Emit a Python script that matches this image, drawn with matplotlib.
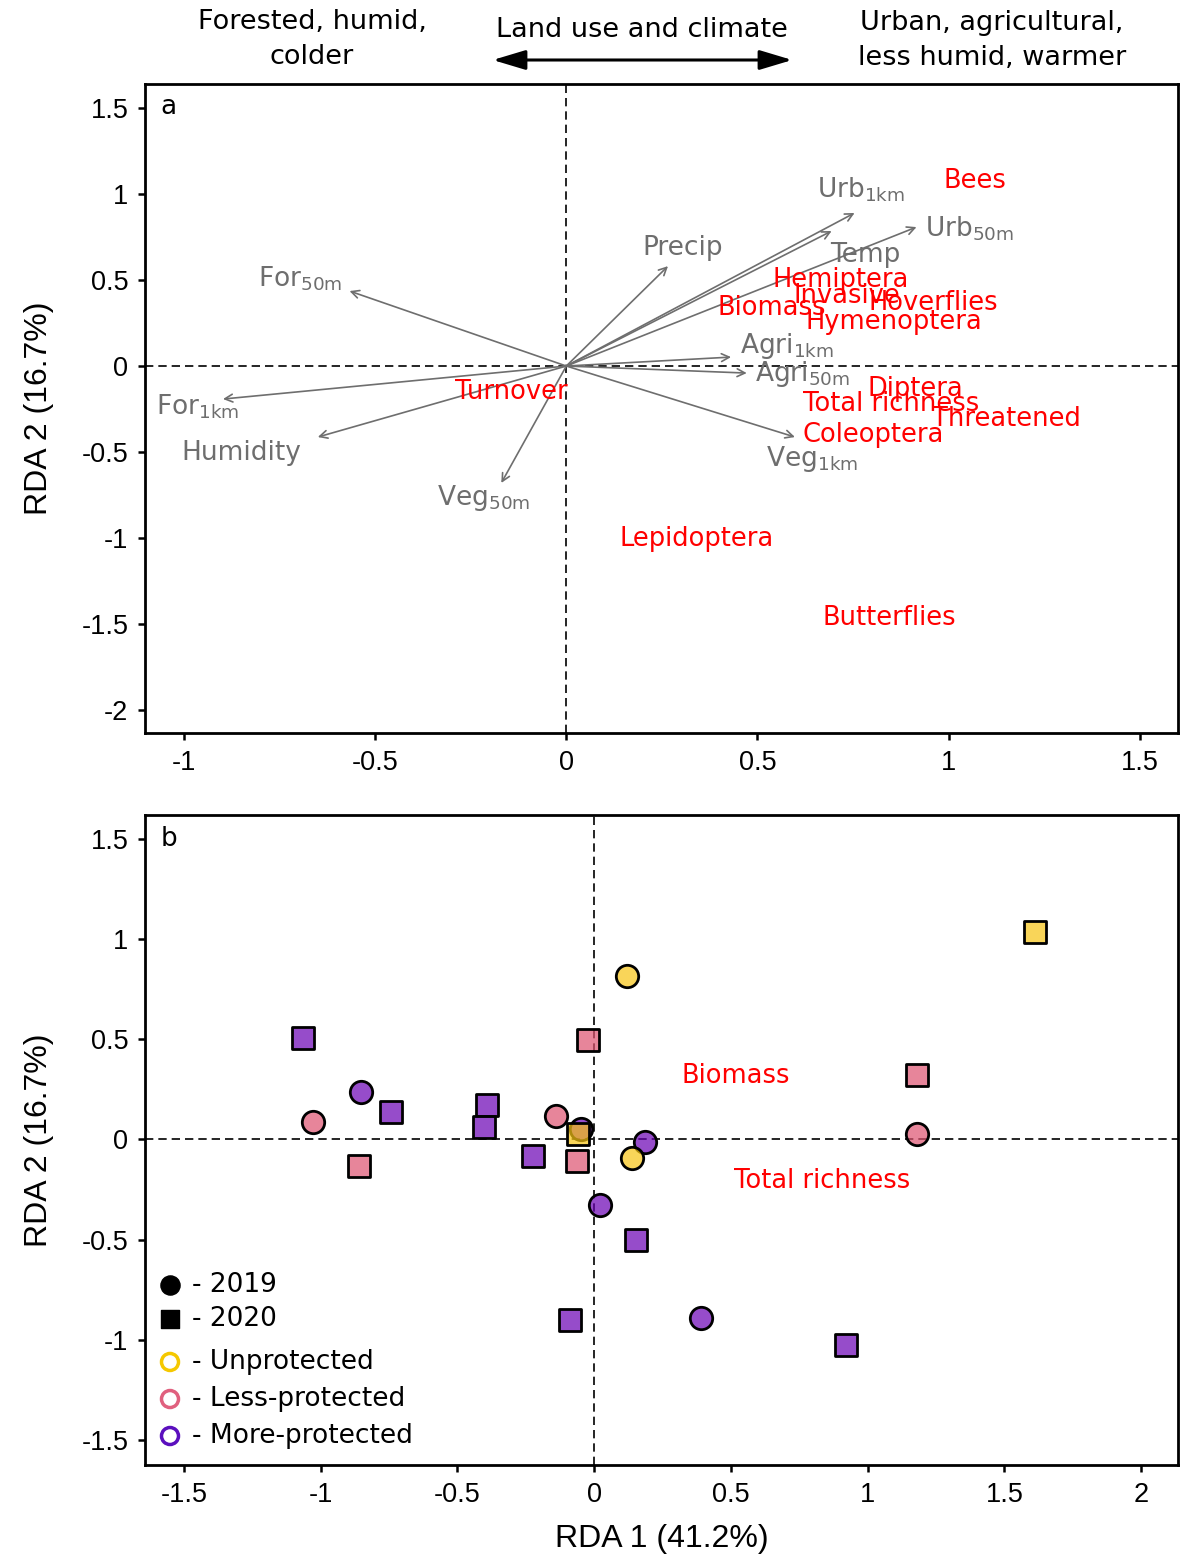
"""RDA biplot of insect community metrics against land use and climate (a)
and site scores by year and protection level (b)."""
import matplotlib

matplotlib.use("Agg")
import matplotlib.pyplot as plt
from matplotlib.colors import to_rgba
from matplotlib.ticker import FuncFormatter

plt.rcParams["axes.unicode_minus"] = False

# --- panel a: explanatory variable arrows (tips in RDA space) ---
env_names = ["For$_\\mathregular{50m}$", "For$_\\mathregular{1km}$", "Humidity",
             "Veg$_\\mathregular{50m}$", "Precip", "Urb$_\\mathregular{1km}$", "Temp",
             "Urb$_\\mathregular{50m}$", "Agri$_\\mathregular{1km}$",
             "Agri$_\\mathregular{50m}$", "Veg$_\\mathregular{1km}$"]
env_x = [-0.567, -0.898, -0.650, -0.170, 0.266, 0.754, 0.694, 0.916, 0.431, 0.472, 0.598]
env_y = [0.436, -0.192, -0.413, -0.680, 0.581, 0.890, 0.785, 0.808, 0.052, -0.041, -0.413]
env_lab_x = [-0.697, -0.963, -0.851, -0.217, 0.305, 0.770, 0.783, 1.055, 0.577, 0.619, 0.642]
env_lab_y = [0.506, -0.238, -0.506, -0.767, 0.686, 1.023, 0.645, 0.797, 0.116, -0.047, -0.541]

# response variables (passive, shown as labels)
resp_names = ["Bees", "Hemiptera", "Invasive", "Biomass", "Hoverflies", "Hymenoptera",
              "Diptera", "Total richness", "Threatened", "Coleoptera", "Turnover",
              "Lepidoptera", "Butterflies"]
resp_x = [1.070, 0.718, 0.734, 0.538, 0.961, 0.856, 0.914, 0.849, 1.151, 0.804,
          -0.144, 0.342, 0.846]
resp_y = [1.076, 0.500, 0.407, 0.337, 0.366, 0.256, -0.134, -0.221, -0.308, -0.401,
          -0.151, -1.006, -1.465]

# --- panel b: site scores ---
site_x = [-0.854, -0.047, 0.186, 0.022, 0.391,
          -1.066, -0.741, -0.391, -0.401, -0.223, 0.153, -0.088, 0.920,
          -1.029, -0.139, 1.182,
          -0.861, -0.062, -0.022, 1.182,
          0.120, 0.139,
          -0.058, 1.613]
site_y = [0.235, 0.050, -0.010, -0.325, -0.890,
          0.505, 0.135, 0.170, 0.060, -0.080, -0.500, -0.900, -1.025,
          0.085, 0.115, 0.025,
          -0.130, -0.105, 0.495, 0.320,
          0.815, -0.090,
          0.025, 1.035]
site_year = [2019] * 5 + [2020] * 8 + [2019] * 3 + [2020] * 4 + [2019] * 2 + [2020] * 2
site_prot = ["More"] * 13 + ["Less"] * 7 + ["Un"] * 4
resp_b_names = ["Biomass", "Total richness"]
resp_b_x = [0.518, 0.832]
resp_b_y = [0.315, -0.205]

prot_colors = {"Un": "#F7C413", "Less": "#DE526F", "More": "#6A00B4"}
legend_edge = {"Un": "#F5C800", "Less": "#E0607E", "More": "#5B0FBE"}
legend_labels = {"Un": "- Unprotected", "Less": "- Less-protected", "More": "- More-protected"}

GRAY = "#6e6e6e"
TICK_FONT = "Liberation Sans"

fig = plt.figure(figsize=(11.8, 15.58), dpi=100)
ax_a = fig.add_axes([145 / 1180, 1 - 733 / 1558, 1033 / 1180, 649 / 1558])
ax_b = fig.add_axes([145 / 1180, 1 - 1465 / 1558, 1033 / 1180, 650 / 1558])


def style_axes(ax):
    for sp in ax.spines.values():
        sp.set_linewidth(2.0)
    ax.tick_params(direction="out", length=5, width=1.8, labelsize=19.5, pad=7)
    for lab in ax.get_xticklabels() + ax.get_yticklabels():
        lab.set_fontfamily(TICK_FONT)
    fmt = FuncFormatter(lambda v, p: f"{v:g}")
    ax.xaxis.set_major_formatter(fmt)
    ax.yaxis.set_major_formatter(fmt)
    ax.axhline(0, color="black", lw=1.2, ls=(0, (5, 3)), zorder=1)
    ax.axvline(0, color="black", lw=1.2, ls=(0, (5, 3)), zorder=1)
    ax.set_ylabel("RDA 2 (16.7%)", fontsize=23, fontfamily=TICK_FONT, labelpad=20)


# panel a
ax_a.set_xlim(-1.102, 1.60)
ax_a.set_ylim(-2.134, 1.64)
ax_a.set_xticks([-1, -0.5, 0, 0.5, 1, 1.5])
ax_a.set_yticks([1.5, 1, 0.5, 0, -0.5, -1, -1.5, -2])
style_axes(ax_a)
for x, y in zip(env_x, env_y):
    ax_a.annotate("", xy=(x, y), xytext=(0, 0),
                  arrowprops=dict(arrowstyle="->", color=GRAY, lw=1.2,
                                  mutation_scale=14, shrinkA=0, shrinkB=0), zorder=2)
for name, x, y in zip(env_names, env_lab_x, env_lab_y):
    ax_a.text(x, y, name, color=GRAY, fontsize=19, ha="center", va="center", zorder=3)
for name, x, y in zip(resp_names, resp_x, resp_y):
    ax_a.text(x, y, name, color="red", fontsize=18.5, ha="center", va="center", zorder=4)
ax_a.text(0.015, 0.965, "a", transform=ax_a.transAxes, fontsize=19, ha="left", va="center")

# panel b
ax_b.set_xlim(-1.642, 2.135)
ax_b.set_ylim(-1.625, 1.62)
ax_b.set_xticks([-1.5, -1, -0.5, 0, 0.5, 1, 1.5, 2])
ax_b.set_yticks([1.5, 1, 0.5, 0, -0.5, -1, -1.5])
style_axes(ax_b)
ax_b.set_xlabel("RDA 1 (41.2%)", fontsize=23, fontfamily=TICK_FONT, labelpad=12)
for x, y, yr, pr in zip(site_x, site_y, site_year, site_prot):
    ax_b.scatter([x], [y], marker="o" if yr == 2019 else "s",
                 s=260 if yr == 2019 else 235,
                 facecolors=[to_rgba(prot_colors[pr], 0.7)], edgecolors="black",
                 linewidths=2.0, zorder=3)
for name, x, y in zip(resp_b_names, resp_b_x, resp_b_y):
    ax_b.text(x, y, name, color="red", fontsize=18.5, ha="center", va="center", zorder=4)
ax_b.text(0.015, 0.963, "b", transform=ax_b.transAxes, fontsize=19, ha="left", va="center")

# hand-built key
mx, tx = 0.0242, 0.0455
ax_b.scatter([mx], [0.277], marker="o", s=190, color="black", transform=ax_b.transAxes,
             clip_on=False, zorder=5)
ax_b.text(tx, 0.277, "- 2019", fontsize=19, va="center", transform=ax_b.transAxes)
ax_b.scatter([mx], [0.2246], marker="s", s=170, color="black", transform=ax_b.transAxes,
             clip_on=False, zorder=5)
ax_b.text(tx, 0.2246, "- 2020", fontsize=19, va="center", transform=ax_b.transAxes)
for key, yy in zip(["Un", "Less", "More"], [0.1585, 0.1015, 0.0446]):
    ax_b.scatter([mx], [yy], marker="o", s=150, facecolors="none",
                 edgecolors=legend_edge[key], linewidths=2.5,
                 transform=ax_b.transAxes, zorder=5)
    ax_b.text(tx, yy, legend_labels[key], fontsize=19, va="center",
              transform=ax_b.transAxes)

# gradient header above panel a
fig.text(312 / 1180, 1 - 40 / 1558, "Forested, humid,\ncolder", fontsize=19.5,
         ha="center", va="center", linespacing=1.45)
fig.text(642 / 1180, 1 - 30 / 1558, "Land use and climate", fontsize=19.5,
         ha="center", va="center")
fig.text(992 / 1180, 1 - 40 / 1558, "Urban, agricultural,\nless humid, warmer",
         fontsize=19.5, ha="center", va="center", linespacing=1.45)
fig.add_artist(matplotlib.patches.FancyArrowPatch(
    (490 / 1180, 1 - 60 / 1558), (795 / 1180, 1 - 60 / 1558),
    transform=fig.transFigure, arrowstyle="<|-|>,head_length=1.0,head_width=0.3",
    mutation_scale=20, color="black", lw=2.2))

fig.savefig("out.png", dpi=100)
